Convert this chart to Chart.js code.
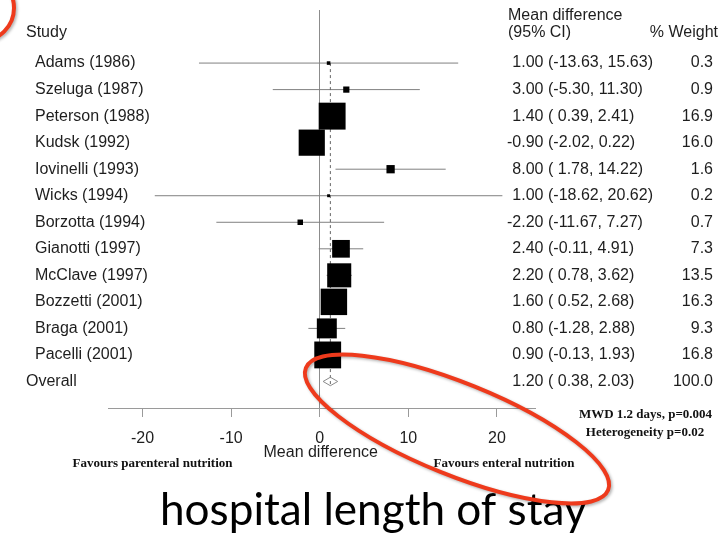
<!DOCTYPE html>
<html>
<head>
<meta charset="utf-8">
<script src="https://cdn.jsdelivr.net/npm/chart.js@4.4.1/dist/chart.umd.min.js"></script>
<style>
  html, body { margin: 0; padding: 0; background: #fff; }
  #wrap { position: relative; width: 722px; height: 533px; }
</style>
</head>
<body>
<div id="wrap"><canvas id="forest"></canvas></div>
<script>
// trials, mean difference in hospital stay (days) with 95% CI and weight
const studies = ['Adams (1986)', 'Szeluga (1987)', 'Peterson (1988)', 'Kudsk (1992)',
  'Iovinelli (1993)', 'Wicks (1994)', 'Borzotta (1994)', 'Gianotti (1997)',
  'McClave (1997)', 'Bozzetti (2001)', 'Braga (2001)', 'Pacelli (2001)'];
const estimates = [1.00, 3.00, 1.40, -0.90, 8.00, 1.00, -2.20, 2.40, 2.20, 1.60, 0.80, 0.90];
const lower = [-13.63, -5.30, 0.39, -2.02, 1.78, -18.62, -11.67, -0.11, 0.78, 0.52, -1.28, -0.13];
const upper = [15.63, 11.30, 2.41, 0.22, 14.22, 20.62, 7.27, 4.91, 3.62, 2.68, 2.88, 1.93];
const weights = [0.3, 0.9, 16.9, 16.0, 1.6, 0.2, 0.7, 7.3, 13.5, 16.3, 9.3, 16.8];

const overallEst = 1.20;
const overallLower = 0.38;
const overallUpper = 2.03;
const overallWeight = 100.0;

const tickValues = [-20, -10, 0, 10, 20];

const SANS = '"Liberation Sans", Arial, Helvetica, sans-serif';
const SERIF = '"Liberation Serif", "Times New Roman", serif';
const overallRow = studies.length;
const diamondHalf = 0.16;

// CI whiskers as one broken line (null points split the segments)
const ciPoints = [];
studies.forEach((s, i) => {
  ciPoints.push({ x: lower[i], y: i }, { x: upper[i], y: i }, { x: null, y: null });
});

const squarePoints = estimates.map((v, i) => ({ x: v, y: i }));
// square area proportional to weight
const squareRadius = weights.map(w => 4.63 * Math.sqrt(w));

const diamondPoints = [
  { x: overallLower, y: overallRow },
  { x: overallEst, y: overallRow - diamondHalf },
  { x: overallUpper, y: overallRow },
  { x: overallEst, y: overallRow + diamondHalf },
  { x: overallLower, y: overallRow }
];

const fmtCI = (lo, hi) => '(' + (lo >= 0 ? ' ' : '') + lo.toFixed(2) + ', ' + hi.toFixed(2) + ')';

const forestText = {
  id: 'forestText',
  afterDraw(chart) {
    const { ctx, scales: { x, y } } = chart;
    ctx.save();
    ctx.fillStyle = '#1e1e1e';
    ctx.textBaseline = 'middle';
    ctx.font = '16px ' + SANS;

    // left column
    ctx.textAlign = 'left';
    ctx.fillText('Study', 26, 33);
    studies.forEach((s, i) => ctx.fillText(s, 35, y.getPixelForValue(i)));
    ctx.fillText('Overall', 26, y.getPixelForValue(overallRow));

    // right columns
    ctx.fillText('Mean difference', 508, 16);
    ctx.fillText('(95% CI)', 508, 33);
    ctx.textAlign = 'right';
    ctx.fillText('% Weight', 718, 33);

    const row = (est, lo, hi, w, py) => {
      ctx.textAlign = 'right';
      ctx.fillText(est.toFixed(2), 543.5, py);
      ctx.textAlign = 'left';
      ctx.fillText(fmtCI(lo, hi), 548, py);
      ctx.textAlign = 'right';
      ctx.fillText(w.toFixed(1), 713, py);
    };
    studies.forEach((s, i) => row(estimates[i], lower[i], upper[i], weights[i], y.getPixelForValue(i)));
    row(overallEst, overallLower, overallUpper, overallWeight, y.getPixelForValue(overallRow));

    // axis title and favours labels
    ctx.textAlign = 'center';
    ctx.fillText('Mean difference', x.getPixelForValue(0) + 1, 453);
    ctx.font = 'bold 13px ' + SERIF;
    ctx.fillStyle = '#111';
    ctx.fillText('Favours parenteral nutrition', 152.5, 464);
    ctx.fillText('Favours enteral nutrition', 504, 464);
    ctx.fillText('MWD 1.2 days, p=0.004', 645.5, 414.5);
    ctx.fillText('Heterogeneity p=0.02', 645, 433);

    // slide caption
    ctx.fillStyle = '#000';
    ctx.textAlign = 'left';
    ctx.textBaseline = 'alphabetic';
    let size = 40;
    ctx.font = size + 'px Lato, "Open Sans", sans-serif';
    size = size * 427 / ctx.measureText('hospital length of stay').width;
    ctx.font = size.toFixed(1) + 'px Lato, "Open Sans", sans-serif';
    ctx.fillText('hospital length of stay', 160, 525);

    // red pen marks
    ctx.strokeStyle = '#ee3a1c';
    ctx.lineWidth = 4;
    ctx.shadowColor = 'rgba(0,0,0,0.3)';
    ctx.shadowBlur = 3;
    ctx.shadowOffsetX = 1.5;
    ctx.shadowOffsetY = 1.5;
    ctx.beginPath();
    ctx.ellipse(457, 429, 163, 46, 22 * Math.PI / 180, 0, Math.PI * 2);
    ctx.stroke();
    ctx.beginPath();
    ctx.arc(-19, 8, 33, 0, Math.PI * 2);
    ctx.stroke();
    ctx.restore();
  }
};

new Chart(document.getElementById('forest'), {
  type: 'scatter',
  data: {
    datasets: [
      {
        data: squarePoints,
        pointStyle: 'rect',
        pointRadius: squareRadius,
        backgroundColor: '#000',
        borderWidth: 0
      },
      {
        type: 'line',
        data: diamondPoints,
        borderColor: '#8a8a8a',
        borderWidth: 1,
        pointRadius: 0,
        tension: 0,
        fill: false
      },
      {
        type: 'line',
        data: [{ x: overallEst, y: 0 }, { x: overallEst, y: overallRow + diamondHalf }],
        borderColor: '#666',
        borderWidth: 1,
        borderDash: [3, 3],
        pointRadius: 0,
        fill: false
      },
      {
        type: 'line',
        data: ciPoints,
        borderColor: '#808080',
        borderWidth: 1,
        pointRadius: 0,
        spanGaps: false,
        fill: false
      }
    ]
  },
  options: {
    responsive: true,
    maintainAspectRatio: false,
    animation: false,
    layout: { autoPadding: false, padding: { left: 108, right: 187, top: 10, bottom: 0 } },
    scales: {
      x: {
        type: 'linear',
        min: -23.9,
        max: 24.3,
        afterBuildTicks: scale => { scale.ticks = tickValues.map(v => ({ value: v })); },
        afterFit: scale => { scale.height = 125; },
        border: { display: true, color: '#9a9a9a', width: 1 },
        grid: {
          drawOnChartArea: true,
          color: ctx => (ctx.tick && ctx.tick.value === 0 ? '#8c8c8c' : 'rgba(0,0,0,0)'),
          tickColor: '#9a9a9a',
          tickLength: 9
        },
        ticks: {
          color: '#1e1e1e',
          padding: 12,
          font: { family: SANS, size: 16 }
        }
      },
      y: {
        type: 'linear',
        display: false,
        reverse: true,
        min: -2,
        max: 13
      }
    },
    plugins: {
      legend: { display: false },
      tooltip: { enabled: false }
    }
  },
  plugins: [forestText]
});
</script>
</body>
</html>
